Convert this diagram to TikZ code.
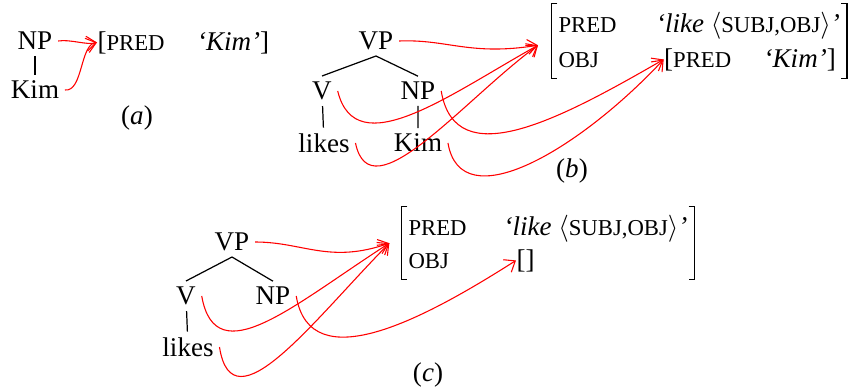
\documentclass[tikz,border=0pt]{standalone}
\usepackage{fontspec}
\setmainfont{Liberation Serif}
\usetikzlibrary{arrows.meta, fit, positioning}
\newcommand\fsc[1]{{\fontsize{8.4}{9}\selectfont #1}}
\newcommand\avmbrackets[1]{%
  \draw[brk] ([xshift=2.2pt]#1.north west) -| (#1.south west) -- ++(2.2pt,0)
             ([xshift=-2.2pt]#1.north east) -| (#1.south east) -- ++(-2.2pt,0);}
\tikzset{
  cat/.style  = {inner sep=2pt},
  fs/.style   = {inner sep=0pt, anchor=base west},
  avm/.style  = {inner xsep=2.2pt, inner ysep=2.5pt},
  brk/.style  = {line width=0.45pt},
  tree/.style = {line width=0.45pt},
  arr/.style  = {-{Straight Barb[length=3.5pt,width=5.5pt]}, red, line width=0.4pt},
  lbl/.style  = {inner sep=0pt},
}

\begin{document}
\begin{tikzpicture}[x=0.013cm, y=-0.013cm]
  \useasboundingbox (0,0) rectangle (852,389);

  % (a)
  \node[cat] (npA)  at (35,41) {NP};
  \node[cat] (kimA) at (35,90) {Kim};
  \draw[tree] (npA) -- (kimA);
  \node[fs] (fA) at (97,50) {[\fsc{PRED}\hspace{12pt}\textit{‘Kim’}]};
  \node[lbl] (capA) at (137,118) {(\textit{a})};

  \draw[arr] (npA.east)  .. controls +(12,-2) and +(-10,3) .. (fA.west);
  \draw[arr] (kimA.east) .. controls +(18,2) and +(-17,2) .. (fA.west);

  % (b) tree
  \node[cat] (vpB)    at (376,41)  {VP};
  \node[cat] (vB)     at (322,91)  {V};
  \node[cat] (npB)    at (418,91)  {NP};
  \node[cat] (likesB) at (324,143) {likes};
  \node[cat] (kimB)   at (418,143) {Kim};
  \draw[tree] (vpB.south) -- (vB.north) (vpB.south) -- (npB.north)
              (vB) -- (likesB) (npB) -- (kimB);

  % (b) f-structure
  \node[fs] (predB) at (558,32) {\fsc{PRED}};
  \node[fs, anchor=base] (likeB) at (748,32)
    {\textit{‘like}\ $\langle$\fsc{SUBJ,OBJ}$\rangle$\textit{’}};
  \node[fs] (objB) at (558,67) {\fsc{OBJ}};
  \node[fs, anchor=base] (fkimB) at (750,67)
    {[\fsc{PRED}\hspace{12pt}\textit{‘Kim’}]};
  \node[avm, fit=(predB)(likeB)(objB)(fkimB)] (fB) {};
  \avmbrackets{fB}
  \node[lbl] (capB) at (572,171) {(\textit{b})};
  \coordinate (inB) at ([xshift=-5pt,yshift=-1.5pt]fB.west);

  \draw[arr] (vpB.east)    .. controls +(48,-2) and +(-68,11)  .. (inB);
  \draw[arr] (vB.east)     .. controls +(18,74) and +(-88,49)  .. (inB);
  \draw[arr] (likesB.east) .. controls +(15,72) and +(-75,55)  .. (inB);
  \draw[arr] (npB.east)    .. controls +(14,84) and +(-104,60) .. (fkimB.west);
  \draw[arr] (kimB.east)   .. controls +(13,77) and +(-84,90)  .. (fkimB.west);

  % (c) tree
  \node[cat] (vpC)    at (232,242) {VP};
  \node[cat] (vC)     at (186,296) {V};
  \node[cat] (npC)    at (273,296) {NP};
  \node[cat] (likesC) at (188,347) {likes};
  \draw[tree] (vpC.south) -- (vC.north) (vpC.south) -- (npC.north)
              (vC) -- (likesC);

  % (c) f-structure
  \node[fs] (predC) at (408,235) {\fsc{PRED}};
  \node[fs] (likeC) at (503,235)
    {\textit{‘like}\ $\langle$\fsc{SUBJ,OBJ}$\rangle$\textit{’}};
  \node[fs] (objC) at (408,268) {\fsc{OBJ}};
  \node[fs] (emptyC) at (516,268) {[]};
  \node[avm, fit=(predC)(likeC)(objC)(emptyC)] (fC) {};
  \avmbrackets{fC}
  \node[lbl] (capC) at (428,375) {(\textit{c})};
  \coordinate (inC) at ([xshift=-4.5pt]fC.west);

  \draw[arr] (vpC.east)    .. controls +(48,0) and +(-60,21)  .. (inC);
  \draw[arr] (vC.east)     .. controls +(14,79) and +(-95,61) .. (inC);
  \draw[arr] (likesC.east) .. controls +(13,83) and +(-75,76) .. (inC);
  \draw[arr] (npC.east)    .. controls +(14,84) and +(-91,58) .. (emptyC.west);

\end{tikzpicture}
\end{document}
